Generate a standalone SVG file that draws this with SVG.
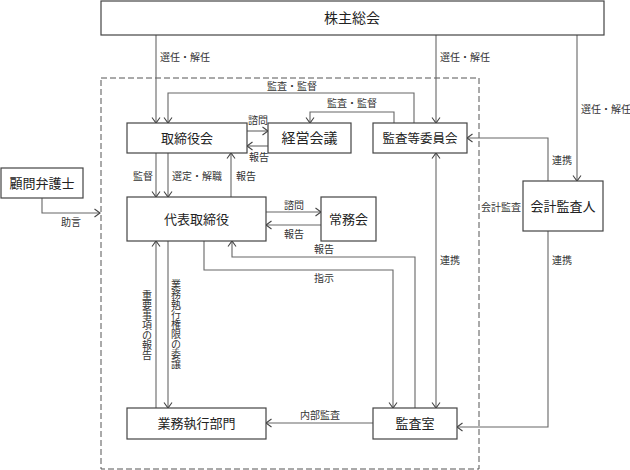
<svg xmlns="http://www.w3.org/2000/svg" width="630" height="470" viewBox="0 0 630 470">
<style>
.box{fill:#fff;stroke:#444;stroke-width:1.2}
.lbl{font-family:"Liberation Serif","Noto Sans CJK JP",serif;font-size:13px;fill:#222;text-anchor:middle}
.sm{font-family:"Liberation Serif","Noto Sans CJK JP",serif;font-size:10px;fill:#333}
.ln{fill:none;stroke:#666;stroke-width:1.1}
.arr{marker-end:url(#ah)}
.vt{font-family:"Liberation Serif","Noto Sans CJK JP",serif;font-size:10px;fill:#333;text-anchor:middle}
</style>
<defs>
<marker id="ah" markerUnits="userSpaceOnUse" markerWidth="12" markerHeight="12" refX="6" refY="5" orient="auto-start-reverse">
<path d="M0.5,1 L6,5 L0.5,9" fill="none" stroke="#444" stroke-width="1.1"/>
</marker>
</defs>
<rect id="scope" x="101" y="78" width="378" height="391" fill="none" stroke="#555" stroke-width="1" stroke-dasharray="6,3"/>
<g id="connectors">
<path class="ln arr" d="M156,35 V123"/>
<path class="ln arr" d="M436,35 V123"/>
<path class="ln arr" d="M577,35 V181"/>
<path class="ln arr" d="M414,123 V93 H168 V123"/>
<path class="ln arr" d="M394,123 V112 H310 V123"/>
<path class="ln arr" d="M247,131 H268"/>
<path class="ln arr" d="M268,146 H247"/>
<path class="ln arr" d="M156,153 V197"/>
<path class="ln arr" d="M168,153 V197"/>
<path class="ln arr" d="M231,197 V153"/>
<path class="ln arr" d="M42,198 V213 H100"/>
<path class="ln arr" d="M266,212 H321"/>
<path class="ln arr" d="M321,225 H266"/>
<path class="ln arr" d="M415,408 V257 H232 V241"/>
<path class="ln arr" d="M204,241 V270 H393 V408"/>
<path class="ln arr" d="M436,153 V408" marker-start="url(#ah)"/>
<path class="ln arr" d="M156,408 V241"/>
<path class="ln arr" d="M168,241 V408"/>
<path class="ln arr" d="M373,423 H266"/>
<path class="ln arr" d="M548,181 V138 H467"/>
<path class="ln arr" d="M548,231 V427 H457"/>
<text class="sm" x="160" y="61">選任・解任</text>
<text class="sm" x="440" y="61">選任・解任</text>
<text class="sm" x="581" y="113">選任・解任</text>
<text class="sm" x="267" y="90">監査・監督</text>
<text class="sm" x="327" y="107">監査・監督</text>
<text class="sm" x="248" y="124">諮問</text>
<text class="sm" x="249" y="161">報告</text>
<text class="sm" x="133" y="180">監督</text>
<text class="sm" x="172" y="180">選定・解職</text>
<text class="sm" x="236" y="180">報告</text>
<text class="sm" x="61" y="226">助言</text>
<text class="sm" x="284" y="209">諮問</text>
<text class="sm" x="284" y="238">報告</text>
<text class="sm" x="314" y="253">報告</text>
<text class="sm" x="314" y="282">指示</text>
<text class="sm" x="440" y="264">連携</text>
<text class="sm" x="552" y="164">連携</text>
<text class="sm" x="552" y="264">連携</text>
<text class="sm" x="481" y="211">会計監査</text>
<text class="sm" x="300" y="419">内部監査</text>
<text class="vt"><tspan x="147" y="299">重</tspan><tspan x="147" y="309">要</tspan><tspan x="147" y="319">事</tspan><tspan x="147" y="329">項</tspan><tspan x="147" y="339">の</tspan><tspan x="147" y="349">報</tspan><tspan x="147" y="359">告</tspan></text>
<text class="vt"><tspan x="176" y="288">業</tspan><tspan x="176" y="298">務</tspan><tspan x="176" y="308">執</tspan><tspan x="176" y="318">行</tspan><tspan x="176" y="328">権</tspan><tspan x="176" y="338">限</tspan><tspan x="176" y="348">の</tspan><tspan x="176" y="358">委</tspan><tspan x="176" y="368">譲</tspan></text>
</g>
<g id="shareholders"><rect class="box" x="101" y="1" width="503" height="34"/><text class="lbl" x="352" y="23" style="font-size:14px">株主総会</text></g>
<g id="board"><rect class="box" x="127" y="123" width="120" height="30"/><text class="lbl" x="187" y="143">取締役会</text></g>
<g id="mgmt-meeting"><rect class="box" x="268" y="123" width="83" height="30"/><text class="lbl" x="309.5" y="143" style="font-size:14px">経営会議</text></g>
<g id="audit-committee"><rect class="box" x="373" y="123" width="94" height="30"/><text class="lbl" x="420" y="143" style="font-size:12.5px">監査等委員会</text></g>
<g id="advisor"><rect class="box" x="1" y="168" width="82" height="30"/><text class="lbl" x="42" y="188">顧問弁護士</text></g>
<g id="ceo"><rect class="box" x="127" y="197" width="139" height="44"/><text class="lbl" x="196.5" y="224">代表取締役</text></g>
<g id="exec-committee"><rect class="box" x="321" y="197" width="55" height="44"/><text class="lbl" x="348.5" y="224">常務会</text></g>
<g id="accounting-auditor"><rect class="box" x="523" y="181" width="80" height="50"/><text class="lbl" x="563" y="211">会計監査人</text></g>
<g id="business-div"><rect class="box" x="127" y="408" width="139" height="31"/><text class="lbl" x="196.5" y="428">業務執行部門</text></g>
<g id="audit-office"><rect class="box" x="373" y="408" width="84" height="31"/><text class="lbl" x="415" y="428">監査室</text></g>
</svg>
